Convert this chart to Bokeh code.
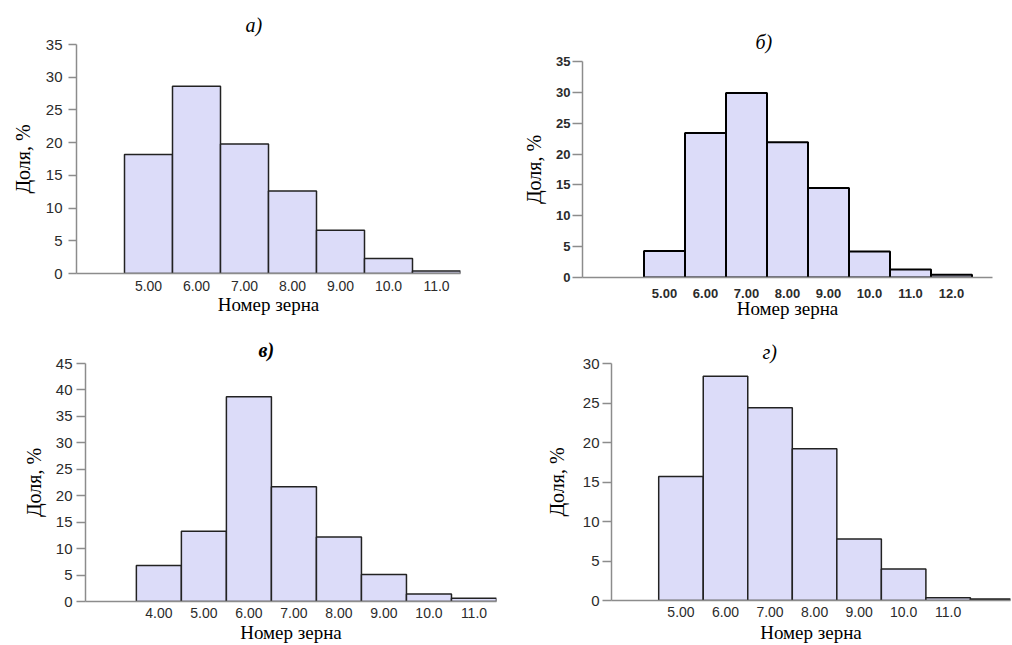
from bokeh.plotting import figure
from bokeh.layouts import column, row
from bokeh.models import FixedTicker, Range1d, Title
from bokeh.embed import file_html
from bokeh.resources import INLINE

# ---------------- data ----------------
a_grain = [5, 6, 7, 8, 9, 10, 11]
a_share = [18.2, 28.6, 19.8, 12.6, 6.6, 2.3, 0.4]
a_ticks = ["5.00", "6.00", "7.00", "8.00", "9.00", "10.0", "11.0"]

b_grain = [5, 6, 7, 8, 9, 10, 11, 12]
b_share = [4.3, 23.4, 29.9, 21.9, 14.5, 4.2, 1.3, 0.45]
b_ticks = ["5.00", "6.00", "7.00", "8.00", "9.00", "10.0", "11.0", "12.0"]

v_grain = [4, 5, 6, 7, 8, 9, 10, 11]
v_share = [6.8, 13.3, 38.7, 21.7, 12.2, 5.1, 1.4, 0.6]
v_ticks = ["4.00", "5.00", "6.00", "7.00", "8.00", "9.00", "10.0", "11.0"]

g_grain = [5, 6, 7, 8, 9, 10, 11, 12]
g_share = [15.7, 28.4, 24.4, 19.2, 7.8, 4.0, 0.35, 0.2]
g_ticks = ["5.00", "6.00", "7.00", "8.00", "9.00", "10.0", "11.0"]

y_label = "Доля, %"
x_label = "Номер зерна"

SERIF = "Liberation Serif"
SANS = "Liberation Sans"
FILL = "#dcdcf9"
AXIS = "#8c8c8c"
TICK_TXT = "#2b2b2b"


def panel(grain, share, ticks, title, width, height, borders, xr, ymax,
          title_offset, title_standoff, ylab_standoff, ytick_out, ytick_standoff,
          ytick_size, xtick_size, xtick_standoff, xlab_standoff,
          title_style="italic", bar_line="#222222", bar_lw=1.5,
          tick_style="normal"):
    left, right, top, bottom = borders
    p = figure(width=width, height=height, output_backend="svg",
               toolbar_location=None, x_range=Range1d(*xr),
               y_range=Range1d(0, ymax),
               min_border_left=left, min_border_right=right,
               min_border_top=top, min_border_bottom=bottom)
    p.frame_align = False
    p.title = Title(text=title, align="left", offset=title_offset,
                    standoff=title_standoff, text_font=SERIF,
                    text_font_style=title_style, text_font_size="20px",
                    text_color="black")
    p.vbar(x=grain, top=share, width=1.0, bottom=0, fill_color=FILL,
           line_color=bar_line, line_width=bar_lw)
    p.grid.visible = False
    p.outline_line_color = None
    p.background_fill_color = "white"
    p.border_fill_color = "white"

    xa = p.xaxis[0]
    xa.ticker = FixedTicker(ticks=grain[:len(ticks)])
    xa.major_label_overrides = {g: t for g, t in zip(grain, ticks)}
    xa.major_tick_line_color = None
    xa.minor_tick_line_color = None
    xa.axis_line_color = AXIS
    xa.axis_line_width = 1.5
    xa.major_label_text_font = SANS
    xa.major_label_text_font_size = xtick_size
    xa.major_label_text_font_style = tick_style
    xa.major_label_text_color = TICK_TXT
    xa.major_label_standoff = xtick_standoff
    xa.axis_label = x_label
    xa.axis_label_text_font = SERIF
    xa.axis_label_text_font_style = "normal"
    xa.axis_label_text_font_size = "19px"
    xa.axis_label_text_color = "black"
    xa.axis_label_standoff = xlab_standoff

    ya = p.yaxis[0]
    ya.ticker = FixedTicker(ticks=list(range(0, ymax + 1, 5)))
    ya.minor_tick_line_color = None
    ya.axis_line_color = AXIS
    ya.axis_line_width = 1.5
    ya.major_tick_line_color = AXIS
    ya.major_tick_line_width = 1.5
    ya.major_tick_in = 0
    ya.major_tick_out = ytick_out
    ya.major_label_text_font = SANS
    ya.major_label_text_font_size = ytick_size
    ya.major_label_text_font_style = tick_style
    ya.major_label_text_color = TICK_TXT
    ya.major_label_standoff = ytick_standoff
    ya.axis_label = y_label
    ya.axis_label_text_font = SERIF
    ya.axis_label_text_font_style = "normal"
    ya.axis_label_text_font_size = "20px"
    ya.axis_label_text_color = "black"
    ya.axis_label_standoff = ylab_standoff
    return p


pa = panel(a_grain, a_share, a_ticks, "а)", 500, 330, (76, 40, 44, 57),
           (3.5, 11.5), 35, title_offset=169, title_standoff=17,
           ylab_standoff=9, ytick_out=8, ytick_standoff=6, ytick_size="15px",
           xtick_size="14px", xtick_standoff=1, xlab_standoff=0)

pb = panel(b_grain, b_share, b_ticks, "б)", 512, 330, (82, 20, 61, 53),
           (3.0, 13.0), 35, title_offset=173, title_standoff=18,
           ylab_standoff=8, ytick_out=10, ytick_standoff=2, ytick_size="13px",
           xtick_size="13px", xtick_standoff=5, xlab_standoff=-3,
           bar_line="black", bar_lw=2, tick_style="bold")

pc = panel(v_grain, v_share, v_ticks, "в)", 540, 315, (85, 44, 33, 43),
           (2.37, 11.5), 45, title_offset=173, title_standoff=6,
           ylab_standoff=8, ytick_out=9, ytick_standoff=4, ytick_size="15px",
           xtick_size="14px", xtick_standoff=0, xlab_standoff=1,
           title_style="bold italic")

pd_ = panel(g_grain, g_share, g_ticks, "г)", 472, 315, (71, 2, 33, 43),
            (3.44, 12.4), 30, title_offset=151, title_standoff=2,
            ylab_standoff=12, ytick_out=9, ytick_standoff=3, ytick_size="15px",
            xtick_size="14px", xtick_standoff=0, xlab_standoff=2)

layout = column(row(pa, pb, spacing=0), row(pc, pd_, spacing=0), spacing=0)

open("out.html", "w").write(file_html(layout, INLINE))
